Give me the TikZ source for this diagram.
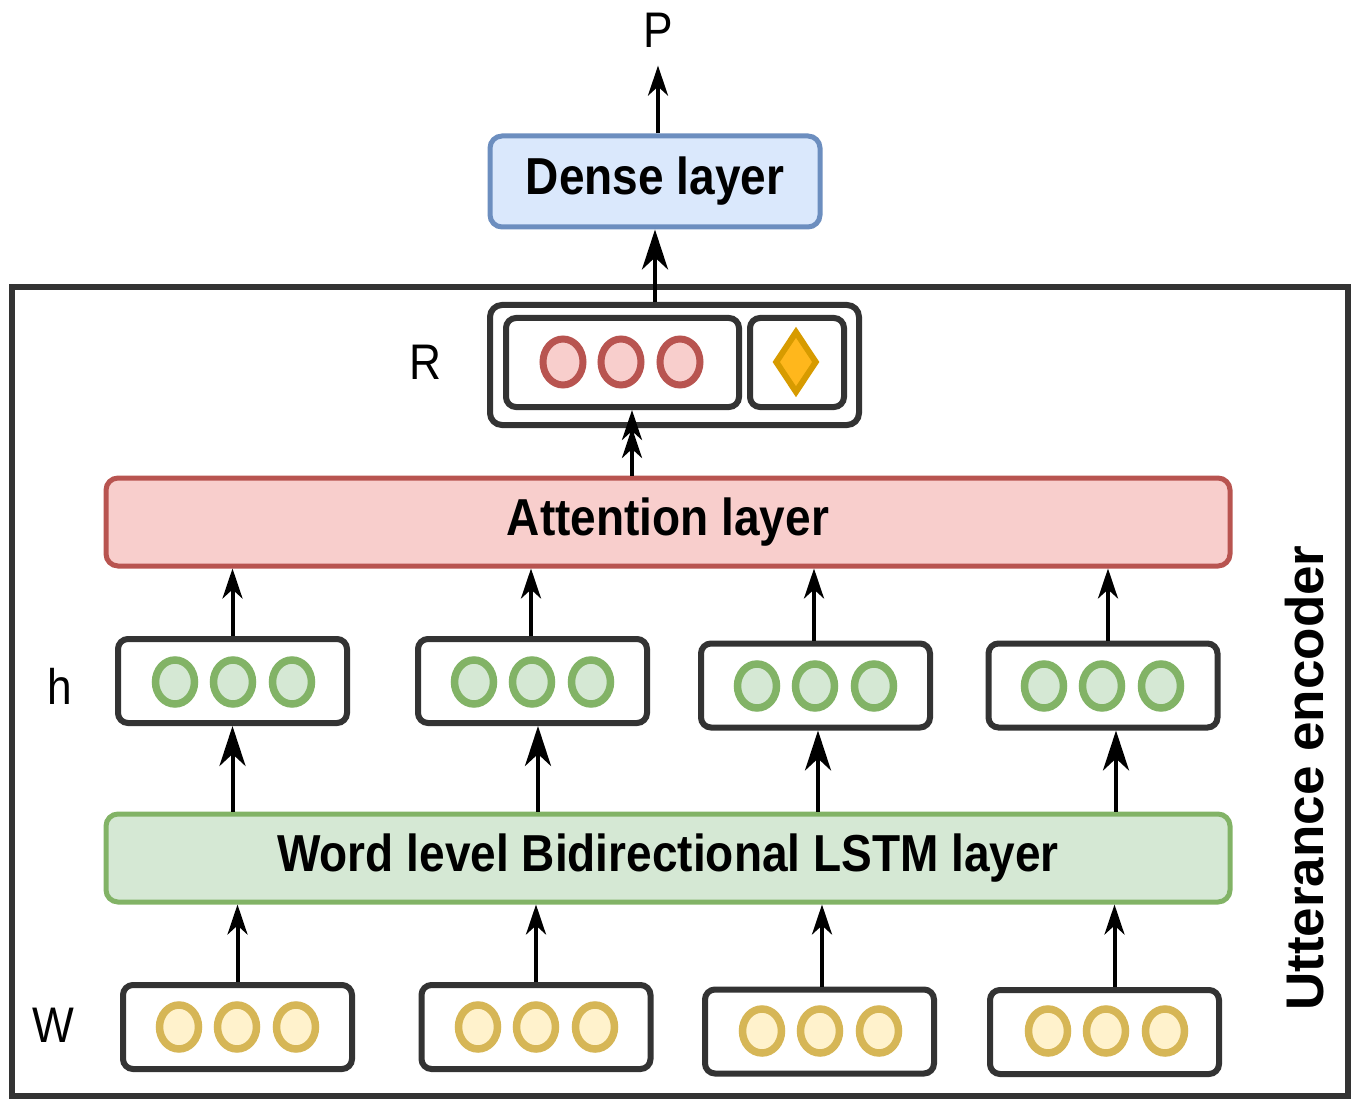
\documentclass[tikz,border=0pt]{standalone}
\usepackage{fontspec}
\setmainfont{Liberation Sans}
\usepackage{graphicx}
\usetikzlibrary{arrows.meta,shapes.geometric,calc}

\definecolor{ink}{HTML}{333333}
\definecolor{denseFill}{HTML}{DAE8FC}
\definecolor{denseDraw}{HTML}{6C8EBF}
\definecolor{attFill}{HTML}{F8CECC}
\definecolor{attDraw}{HTML}{B85450}
\definecolor{lstmFill}{HTML}{D5E8D4}
\definecolor{lstmDraw}{HTML}{82B366}
\definecolor{wordFill}{HTML}{FFF2CC}
\definecolor{wordDraw}{HTML}{D6B656}
\definecolor{gemFill}{HTML}{FFB71C}
\definecolor{gemDraw}{HTML}{D79B00}

% narrow setting of horizontal labels
\newcommand\narrowtext[1]{\scalebox{0.885}[1]{#1}}
\newcommand\labelfont{\fontsize{26}{30}\selectfont\bfseries}
\newcommand\symfont{\fontsize{25}{30}\selectfont}

\begin{document}
\begin{tikzpicture}[x=0.5pt,y=-0.5pt,
  every node/.style={inner sep=0pt},
  arr/.style={-{Stealth[length=15pt,width=10pt,inset=4.5pt]}, line width=2pt, black},
  bigarr/.style={arr, -{Stealth[length=20pt,width=13pt,inset=6pt]}},
  frame/.style={draw=ink, line width=2.75pt, minimum width=668pt, minimum height=404.5pt},
  cellbox/.style={draw=ink, line width=3pt, rounded corners=5pt, fill=white,
                  minimum width=114.5pt, minimum height=42pt},
  layerbox/.style={line width=2.5pt, rounded corners=6pt, minimum height=44pt},
  unit/.style={ellipse, line width=3.75pt, minimum width=19.5pt, minimum height=22pt},
  wunit/.style={unit, draw=wordDraw, fill=wordFill},
  hunit/.style={unit, draw=lstmDraw, fill=lstmFill},
  runit/.style={unit, draw=attDraw, fill=attFill, line width=3.5pt, minimum width=20pt, minimum height=23pt},
  sym/.style={font=\symfont},
]
\useasboundingbox (0,0) rectangle (1357,1102);

% encoder frame
\node[frame] (frame) at (679.75,691.5) {};
\node[rotate=90, font=\fontsize{26.5}{30}\selectfont\bfseries] (enc) at (1305,778) {Utterance encoder};

% output side
\node[sym, inner sep=9pt] (P) at (658,30) {\narrowtext{P}};
\node[layerbox, draw=denseDraw, fill=denseFill, minimum width=165pt, minimum height=45.5pt]
  (dense) at (655,181.5) {\labelfont\narrowtext{Dense layer}};

% utterance representation R
\node[sym] (Rlab) at (425,362) {\narrowtext{R}};
\node[cellbox, minimum width=184.5pt, minimum height=60pt, rounded corners=6pt] (rout) at (674.5,365) {};
\node[cellbox, minimum width=116.5pt, minimum height=44.5pt] (r1) at (622.5,362.5) {};
\node[cellbox, minimum width=47pt, minimum height=44.5pt] (r2) at (797,362.5) {};
\node[runit] (rc1) at (563,362) {};
\node[runit] (rc2) at (621,362) {};
\node[runit] (rc3) at (680,362) {};
\node[diamond, draw=gemDraw, fill=gemFill, line width=3pt, minimum width=21pt, minimum height=31pt] (gem) at (796,362) {};

% attention layer
\node[layerbox, draw=attDraw, fill=attFill, minimum width=562pt] (att) at (668,522) {\labelfont\narrowtext{Attention layer}};

% hidden states h
\node[sym] (hlab) at (60,686) {\narrowtext{h}};
\node[cellbox] (h1) at (232.5,681) {};
\node[cellbox] (h2) at (532.5,681) {};
\node[cellbox] (h3) at (815.5,685.5) {};
\node[cellbox] (h4) at (1103,685.5) {};
\foreach \b/\x/\y in {1/175/682, 2/474/682, 3/757/686, 4/1044/686}{
  \node[hunit] (h\b a) at (\x,\y) {};
  \node[hunit] (h\b b) at (\x+58,\y) {};
  \node[hunit] (h\b c) at (\x+117,\y) {};
}

% word-level BiLSTM
\node[layerbox, draw=lstmDraw, fill=lstmFill, minimum width=562pt] (lstm) at (668,858) {\labelfont\narrowtext{Word level Bidirectional LSTM layer}};

% word embeddings W
\node[sym] (wlab) at (53,1025) {\narrowtext{W}};
\node[cellbox] (w1) at (237.5,1027) {};
\node[cellbox] (w2) at (536,1027) {};
\node[cellbox] (w3) at (819.5,1031.5) {};
\node[cellbox] (w4) at (1104.5,1032) {};
\foreach \b/\x/\y in {1/179/1027, 2/478/1027, 3/762/1031, 4/1048/1031}{
  \node[wunit] (w\b a) at (\x,\y) {};
  \node[wunit] (w\b b) at (\x+58,\y) {};
  \node[wunit] (w\b c) at (\x+117,\y) {};
}

% arrow anchor points
\coordinate (wt1) at (w1.north);
\coordinate (wt2) at (w2.north);
\coordinate (wt3) at ([xshift=1.25pt]w3.north);
\coordinate (wt4) at ([xshift=5pt]w4.north);
\coordinate (ls1) at (h1.south);
\coordinate (ls2) at ([xshift=2.75pt]h2.south);
\coordinate (ls3) at ([xshift=1.25pt]h3.south);
\coordinate (ls4) at ([xshift=6.5pt]h4.south);
\coordinate (ht1) at (h1.north);
\coordinate (ht2) at ([xshift=-0.75pt]h2.north);
\coordinate (ht3) at ([xshift=-0.75pt]h3.north);
\coordinate (ht4) at ([xshift=2.5pt]h4.north);
\coordinate (at) at ([xshift=4.75pt]r1.south);
\coordinate (rt) at ([xshift=-9.75pt]rout.north);
\coordinate (dt) at ([xshift=1.5pt]dense.north);

% connectors
\foreach \i in {1,...,4}{
  \draw[arr] (wt\i) -- (wt\i |- lstm.south);
  \draw[bigarr] (ls\i |- lstm.north) -- (ls\i);
  \draw[arr] (ht\i) -- (ht\i |- att.south);
}
\draw[arr] (at |- att.north) -- (at |- rout.south);
\draw[arr] (at |- att.north) -- (at);
\draw[bigarr] (rt) -- (rt |- dense.south);
\draw[arr] (dt) -- (dt |- P.south);
\end{tikzpicture}
\end{document}
